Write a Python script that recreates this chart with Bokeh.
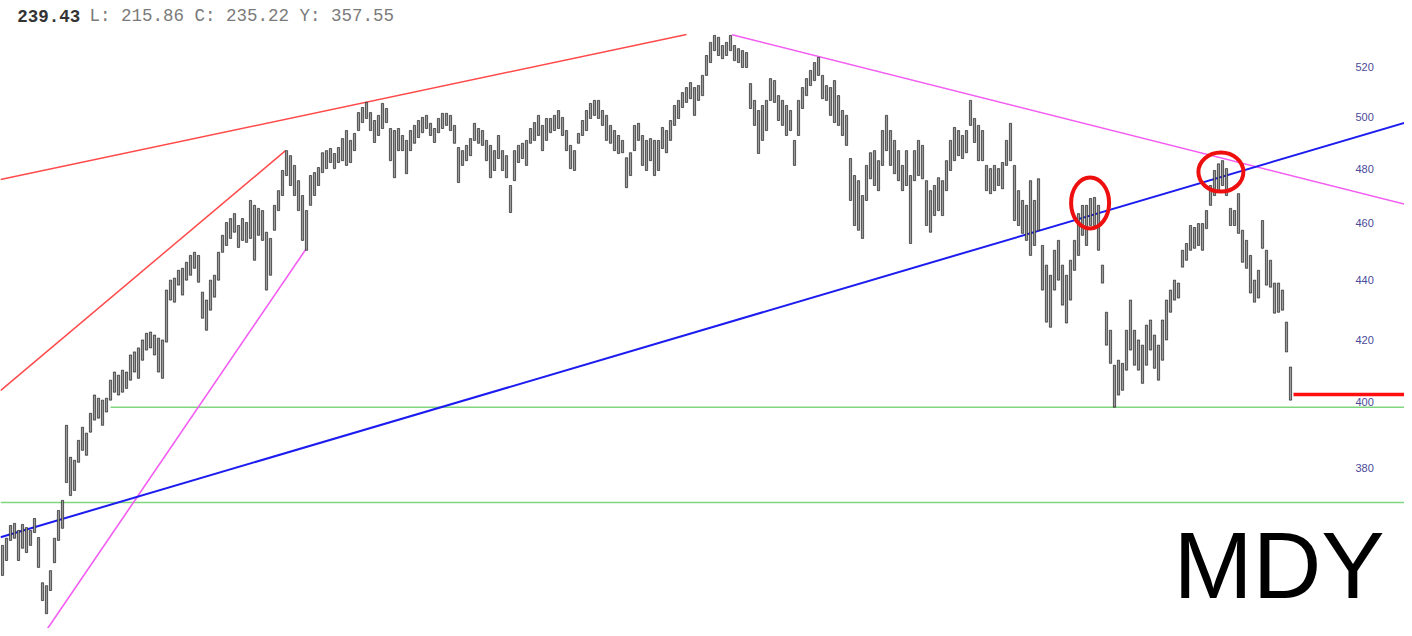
from bokeh.plotting import figure
from bokeh.models import Range1d, LogAxis, FixedTicker, BasicTickFormatter, Label
from bokeh.embed import file_html
from bokeh.resources import INLINE

# ---------------- data ----------------
bar_high = [
    357.6, 359.6, 363.2, 363.8, 361.8, 363.5, 362.6, 361.8, 365.2, 359.8,
    347.3, 346.5, 350.6, 359.6, 367.5, 370.4, 392.8, 383.1, 382.2, 388.2,
    392.2, 390.4, 396.5, 402.2, 401.2, 400.6, 401.2, 406.9, 409.5, 408.5,
    410.1, 409.5, 415.0, 416.0, 417.3, 419.9, 422.1, 422.5, 421.5, 420.5,
    419.9, 436.6, 440.0, 440.7, 443.4, 444.1, 446.2, 448.6, 449.7, 448.6,
    435.9, 433.2, 440.0, 441.7, 449.7, 455.7, 460.3, 461.7, 463.5, 459.2,
    461.7, 460.3, 468.3, 466.5, 465.4, 464.6, 456.8, 454.6, 466.5, 471.9,
    479.4, 486.9, 485.0, 481.3, 475.6, 470.1, 464.6, 477.5, 478.6, 480.5,
    486.1, 486.9, 487.7, 485.8, 488.1, 491.5, 494.6, 490.8, 493.5, 501.6,
    503.6, 505.6, 501.6, 498.5, 500.5, 505.2, 503.2, 495.4, 494.6, 495.4,
    492.7, 490.8, 494.6, 496.6, 498.5, 499.7, 500.5, 497.4, 495.4, 499.3,
    501.3, 501.3, 500.5, 496.6, 488.1, 486.9, 488.9, 491.5, 497.4, 495.4,
    494.6, 490.8, 488.9, 486.9, 492.7, 486.9, 485.0, 473.8, 486.9, 488.9,
    489.7, 490.8, 495.4, 497.7, 500.5, 496.6, 499.3, 499.3, 500.5, 502.4,
    499.7, 494.6, 488.9, 486.9, 493.5, 498.5, 502.4, 505.2, 506.4, 506.4,
    502.4, 500.5, 496.6, 494.6, 492.7, 490.8, 484.2, 486.1, 496.6, 497.4,
    492.7, 490.8, 491.5, 490.8, 490.8, 495.8, 494.6, 498.5, 504.4, 506.4,
    509.5, 511.5, 513.5, 511.5, 512.3, 516.4, 524.5, 529.9, 532.8, 532.0,
    528.6, 529.9, 532.8, 528.6, 527.3, 526.5, 525.7, 513.1, 506.4, 502.4,
    504.4, 506.4, 515.1, 514.3, 508.3, 506.4, 504.4, 502.4, 490.8, 506.4,
    511.5, 515.1, 518.4, 521.6, 523.7, 516.4, 512.3, 511.5, 514.3, 508.3,
    502.4, 500.5, 483.9, 477.5, 475.6, 470.1, 481.3, 486.1, 486.9, 483.1,
    494.6, 500.5, 494.6, 490.8, 486.9, 481.3, 486.9, 477.5, 486.9, 490.8,
    488.9, 475.6, 471.9, 473.8, 476.7, 475.6, 483.1, 490.8, 495.8, 494.6,
    492.7, 494.6, 506.4, 499.3, 496.6, 494.6, 481.3, 480.1, 481.3, 480.1,
    482.4, 490.8, 497.4, 481.3, 471.9, 468.3, 466.5, 475.6, 468.3, 476.3,
    452.1, 445.2, 441.7, 450.4, 453.9, 445.2, 441.7, 446.9, 453.9, 463.5,
    466.5, 466.5, 469.0, 469.4, 466.5, 445.2, 429.1, 423.1, 411.7, 413.3,
    412.3, 423.1, 433.2, 423.1, 419.9, 418.2, 424.8, 426.5, 421.5, 418.2,
    426.5, 433.2, 436.6, 440.0, 439.0, 450.4, 452.8, 459.2, 458.5, 459.9,
    459.9, 464.6, 473.8, 479.4, 481.9, 483.1, 480.1, 465.4, 464.6, 470.8,
    457.5, 453.9, 448.6, 440.0, 443.4, 461.0, 450.4, 446.9, 439.0, 439.0,
    436.6, 425.8, 411.1,
]

bar_low = [
    349.3, 353.4, 359.0, 359.6, 353.4, 356.8, 355.6, 357.6, 361.2, 351.5,
    342.5, 339.0, 345.2, 352.8, 359.0, 362.4, 375.6, 371.8, 373.3, 381.6,
    385.2, 383.7, 390.7, 394.4, 395.0, 392.8, 396.9, 400.6, 403.1, 402.2,
    403.1, 404.3, 406.9, 409.5, 407.5, 413.3, 416.6, 417.3, 415.0, 409.5,
    407.5, 419.2, 433.2, 432.5, 438.3, 434.9, 440.0, 441.7, 444.1, 439.3,
    427.1, 423.1, 429.8, 434.2, 440.0, 449.7, 452.1, 454.6, 456.8, 451.4,
    453.9, 453.2, 454.6, 446.9, 455.7, 453.9, 436.6, 441.7, 457.5, 464.6,
    470.1, 477.5, 473.8, 470.1, 464.6, 453.9, 450.4, 466.5, 470.1, 473.8,
    478.6, 480.1, 482.4, 480.1, 482.4, 483.1, 481.3, 482.4, 486.9, 494.6,
    497.7, 499.3, 494.6, 490.0, 492.7, 495.4, 497.7, 483.1, 476.7, 486.9,
    486.9, 478.2, 486.9, 489.7, 491.9, 493.8, 495.4, 492.7, 490.0, 493.8,
    495.4, 496.6, 494.6, 489.7, 474.9, 481.3, 483.1, 485.0, 490.8, 489.7,
    488.9, 483.1, 476.7, 479.4, 483.9, 479.4, 476.7, 463.9, 475.6, 482.4,
    483.9, 481.3, 489.7, 490.8, 492.7, 486.9, 490.8, 493.8, 494.6, 495.4,
    492.7, 486.9, 480.1, 479.4, 489.7, 492.7, 494.6, 499.3, 500.5, 499.3,
    496.6, 490.8, 489.7, 486.9, 485.8, 486.1, 473.0, 477.5, 486.9, 490.8,
    481.3, 479.4, 483.1, 477.5, 479.4, 487.7, 486.1, 490.8, 496.6, 499.3,
    503.6, 505.6, 507.1, 500.5, 506.4, 508.3, 516.4, 521.6, 526.5, 524.5,
    523.2, 524.5, 526.5, 522.4, 521.6, 519.6, 519.6, 503.2, 496.6, 485.8,
    490.8, 494.6, 506.4, 505.6, 498.5, 496.6, 492.7, 494.6, 481.3, 492.7,
    503.2, 508.3, 512.3, 514.3, 516.4, 507.1, 506.4, 500.5, 497.7, 496.6,
    492.7, 488.9, 468.3, 459.2, 457.5, 454.6, 468.3, 476.3, 473.8, 471.9,
    481.3, 486.9, 481.3, 478.2, 475.6, 471.9, 473.8, 452.8, 475.6, 477.5,
    476.3, 459.2, 456.8, 462.8, 464.6, 462.8, 471.9, 479.4, 483.1, 485.0,
    483.9, 486.1, 496.6, 490.0, 483.1, 483.1, 471.9, 470.8, 471.9, 473.8,
    472.6, 481.3, 483.1, 461.0, 459.2, 456.4, 453.9, 448.6, 452.1, 457.5,
    436.6, 425.8, 424.1, 436.6, 440.0, 431.5, 425.5, 433.2, 443.4, 448.6,
    455.7, 452.1, 459.2, 459.2, 450.4, 439.0, 418.2, 412.3, 398.4, 402.2,
    403.7, 410.1, 416.6, 411.7, 410.1, 405.9, 411.7, 416.6, 410.7, 406.9,
    413.3, 419.9, 429.1, 433.2, 433.9, 444.5, 446.9, 450.4, 451.1, 452.1,
    450.4, 458.1, 466.5, 470.1, 471.9, 473.8, 470.1, 459.2, 459.2, 456.4,
    446.2, 444.1, 435.6, 432.5, 433.9, 451.1, 438.3, 437.6, 428.8, 429.1,
    429.8, 416.0, 400.6,
]

n_bars = min(len(bar_high), len(bar_low))
bar_index = list(range(n_bars))

# trend lines: ([start bar, end bar], [start price, end price])
red_long_x, red_long_y = [-0.5, 171.0], [476.0, 533.2]
red_short_x, red_short_y = [-0.5, 70.75], [403.6, 486.9]
mag_steep_x, mag_steep_y = [9.25, 75.9], [332.0, 450.9]
mag_desc_x, mag_desc_y = [182.4, 352.5], [533.1, 466.2]
blue_x, blue_y = [-0.5, 352.5], [359.9, 498.5]
support_hi_x, support_hi_y = [27.0, 352.5], [398.4, 398.4]
support_lo_x, support_lo_y = [-0.5, 352.5], [369.8, 369.8]
last_level_x, last_level_y = [322.75, 352.5], [402.4, 402.4]
circle_x = [271.9, 304.6]
circle_y = [467.4, 478.8]

y_ticks = [380, 400, 420, 440, 460, 480, 500, 520]
header_bold = "239.43"
header_rest = "L: 215.86 C: 235.22 Y: 357.55"
symbol = "MDY"

# ---------------- figure ----------------
W, H = 1404, 628
p = figure(width=W, height=H, y_axis_type="log",
           x_range=Range1d(-0.5, 350.5), y_range=Range1d(335.10, 547.54),
           x_axis_location=None, y_axis_location=None,
           output_backend="svg", toolbar_location=None, min_border=0)
p.grid.visible = False
p.outline_line_color = None
p.background_fill_color = "white"
p.border_fill_color = "white"

# trend lines
p.line(support_lo_x, support_lo_y, line_color="#7fd67f", line_width=1.6)
p.line(support_hi_x, support_hi_y, line_color="#7fd67f", line_width=1.6)
p.line(red_long_x, red_long_y, line_color="#ff4a4a", line_width=1.5)
p.line(red_short_x, red_short_y, line_color="#ff4a4a", line_width=1.5)
p.line(mag_steep_x, mag_steep_y, line_color="#f25cf2", line_width=1.6)
p.line(mag_desc_x, mag_desc_y, line_color="#f25cf2", line_width=1.6)
p.line(blue_x, blue_y, line_color="#1c1cf0", line_width=2)

# price bars
p.vbar(x=bar_index, width=0.55, top=bar_high[:n_bars], bottom=bar_low[:n_bars],
       fill_color="#9a9a9a", line_color="#1e1e1e", line_width=0.7)

p.line(last_level_x, last_level_y, line_color="#ff1010", line_width=3.5)
p.ellipse(x=circle_x, y=circle_y, width=[38, 45], height=[51, 39],
          width_units="screen", height_units="screen",
          fill_color=None, line_color="#ee0f0f", line_width=4)

# price axis drawn inside the chart
yaxis = LogAxis(fixed_location=337.5,
                ticker=FixedTicker(ticks=y_ticks),
                formatter=BasicTickFormatter())
yaxis.axis_line_color = None
yaxis.major_tick_line_color = None
yaxis.minor_tick_line_color = None
yaxis.major_tick_out = 0
yaxis.major_tick_in = 0
yaxis.minor_tick_out = 0
yaxis.major_label_standoff = 3
yaxis.major_label_text_font = "Liberation Sans"
yaxis.major_label_text_font_size = "11px"
yaxis.major_label_text_color = "#4a4a9a"
p.add_layout(yaxis, "right")

# header
p.add_layout(Label(x=16.7, y=H - 15, x_units="screen", y_units="screen",
                   text=header_bold, text_font="Liberation Mono",
                   text_font_size="17.5px", text_font_style="bold",
                   text_color="#333333", text_baseline="middle"))
p.add_layout(Label(x=89.0, y=H - 15, x_units="screen", y_units="screen",
                   text=header_rest, text_font="Liberation Mono",
                   text_font_size="17.5px", text_color="#7a7a7a",
                   text_baseline="middle"))

# ticker symbol
p.add_layout(Label(x=1173, y=64, x_units="screen", y_units="screen",
                   text=symbol, text_font="Liberation Sans",
                   text_font_size="95px", text_color="black",
                   text_baseline="alphabetic"))

open("out.html", "w").write(file_html(p, INLINE))
